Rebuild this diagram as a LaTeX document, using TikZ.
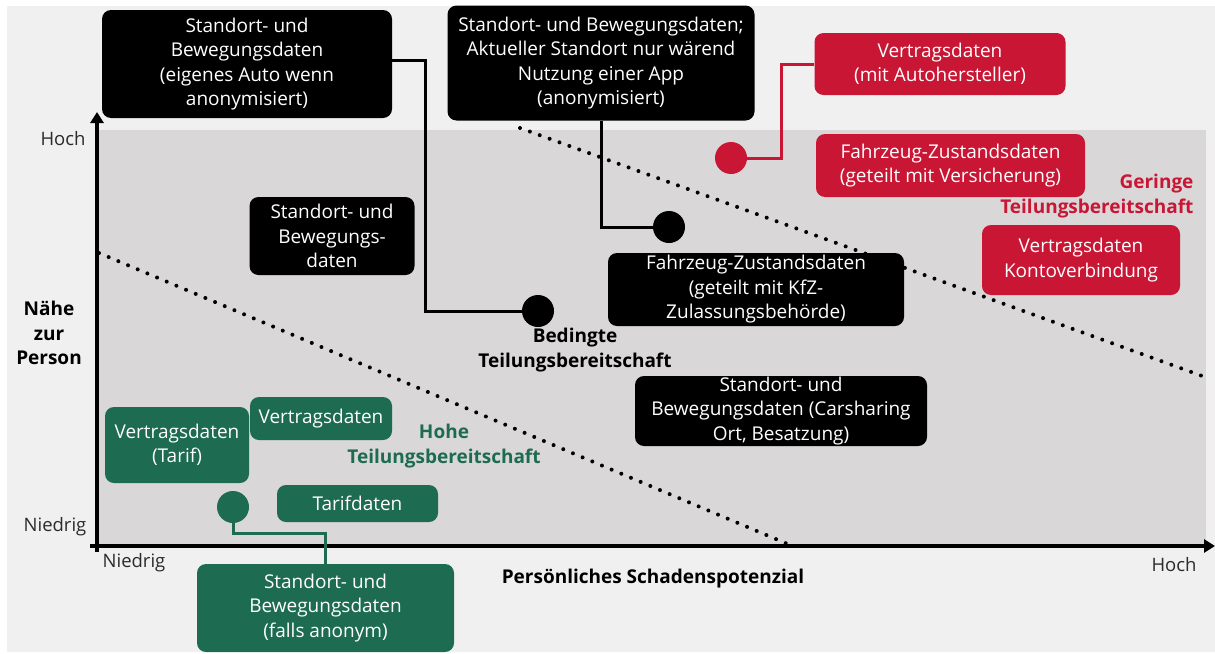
\documentclass[tikz,border=0pt]{standalone}
\usepackage{fontspec}
\setmainfont{Open Sans}
\usetikzlibrary{arrows.meta}
\definecolor{bgout}{HTML}{F0F0F0}
\definecolor{bgin}{HTML}{D9D7D8}
\definecolor{rd}{HTML}{C81634}
\definecolor{gr}{HTML}{1D6B50}
\definecolor{lbl}{HTML}{2B2B2B}
\begin{document}
\begin{tikzpicture}[x=1pt,y=-1pt,
  box/.style={rounded corners=9pt, align=center, text=white, inner sep=0pt,
    font=\fontsize{19}{24.5}\selectfont},
  blk/.style={box, fill=black},
  redbox/.style={box, fill=rd},
  grbox/.style={box, fill=gr},
  dotline/.style={line width=4pt, line cap=round, dash pattern=on 0pt off 10.5pt},
  axis/.style={line width=3.2pt, -{Triangle[width=13pt,length=11pt]}},
  conn/.style={line width=3pt},
  dot/.style={circle, inner sep=0pt, minimum size=32pt},
  axlbl/.style={font=\fontsize{18.5}{24.5}\selectfont, text=lbl},
  bold/.style={font=\fontsize{19}{24.5}\selectfont\bfseries, align=center}]
\useasboundingbox (0,0) rectangle (1215,653);
\fill[white] (0,0) rectangle (1215,653);
\fill[bgout] (7,6) rectangle (1215,652);
\fill[bgin] (98,130) rectangle (1206,545);

% dotted separators
\draw[dotline] (99,253) -- (790,545);
\draw[dotline] (520,128) -- (1205,377);

% axes
\draw[axis] (97,552) -- (97,112);
\draw[axis] (90,546) -- (1215,546);

% axis labels
\node[axlbl] (yhoch) at (63,139) {Hoch};
\node[axlbl] (yniedrig) at (55,527) {Niedrig};
\node[axlbl] (xniedrig) at (134,563) {Niedrig};
\node[axlbl] (xhoch) at (1174,565) {Hoch};
\node[bold] (xtitle) at (653,579) {Persönliches Schadenspotenzial};
\node[bold] (ytitle) at (49,333) {Nähe\\zur\\Person};

% black boxes
\node[blk, minimum width=290pt, minimum height=108pt] (tl) at (247,64)
  {Standort- und\\Bewegungsdaten\\(eigenes Auto wenn\\anonymisiert)};
\node[blk, minimum width=307pt, minimum height=115pt] (tm) at (601,63)
  {Standort- und Bewegungsdaten;\\Aktueller Standort nur wärend\\Nutzung einer App\\(anonymisiert)};
\node[blk, minimum width=165pt, minimum height=78pt] (sb) at (332,236)
  {Standort- und\\Bewegungs-\\daten};
\node[blk, minimum width=296pt, minimum height=73pt] (fz) at (756,289.5)
  {Fahrzeug-Zustandsdaten\\(geteilt mit KfZ-\\Zulassungsbehörde)};
\node[blk, minimum width=292pt, minimum height=70pt] (cs) at (781,411)
  {Standort- und\\Bewegungsdaten (Carsharing\\Ort, Besatzung)};

% red boxes
\node[redbox, minimum width=251pt, minimum height=62pt] (r1) at (940,64)
  {Vertragsdaten\\(mit Autohersteller)};
\node[redbox, minimum width=269pt, minimum height=63pt] (r2) at (950.5,165.5)
  {Fahrzeug-Zustandsdaten\\(geteilt mit Versicherung)};
\node[redbox, minimum width=198pt, minimum height=70pt] (r3) at (1081,260)
  {Vertragsdaten\\Kontoverbindung};

% green boxes
\node[grbox, minimum width=144pt, minimum height=76pt] (g1) at (177,445)
  {Vertragsdaten\\(Tarif)};
\node[grbox, minimum width=142pt, minimum height=43pt] (g2) at (321,418.5)
  {Vertragsdaten};
\node[grbox, minimum width=161pt, minimum height=37pt] (g3) at (357.5,503.5)
  {Tarifdaten};
\node[grbox, minimum width=257pt, minimum height=88pt] (g4) at (325.5,608)
  {Standort- und\\Bewegungsdaten\\(falls anonym)};

% group labels
\node[bold, text=black] (bed) at (575,350) {Bedingte\\Teilungsbereitschaft};
\node[bold, text=gr] (hoh) at (444,446) {Hohe\\Teilungsbereitschaft};
\node[bold, text=rd, align=right, anchor=east] (ger) at (1197,196) {Geringe\\Teilungsbereitschaft};

% dots
\node[dot, fill=black] (c1) at (538,311) {};
\node[dot, fill=black] (c2) at (669,227) {};
\node[dot, fill=rd] (c3) at (731,158) {};
\node[dot, fill=gr] (c4) at (233,507) {};

% bend points
\coordinate (k1) at (425,60);
\coordinate (k3) at (781,158);
\coordinate (k4) at (233,533);

% connectors
\draw[conn] (tl.east |- k1) -- (k1) |- (c1);
\draw[conn] (tm.south) |- (c2);
\draw[conn, rd] (c3.east) -- (k3) |- (r1.west);
\draw[conn, gr] (c4.south) -- (k4) -| (g4.north);
\end{tikzpicture}
\end{document}
